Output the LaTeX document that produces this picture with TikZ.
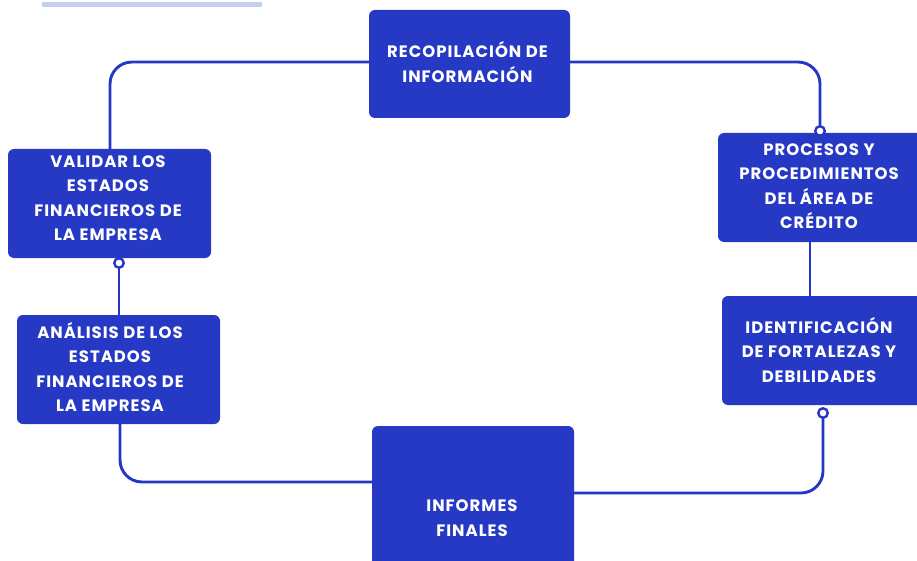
\documentclass[tikz,border=0pt]{standalone}
\usepackage{fontspec}
\setmainfont{Poppins}[BoldFont={* Bold},LetterSpace=6]
\definecolor{boxblue}{HTML}{2639C4}
\definecolor{lineblue}{HTML}{2536C4}
\definecolor{barblue}{HTML}{C3D0EE}
\begin{document}
\begin{tikzpicture}[x=1pt,y=-1pt,
  box/.style={fill=boxblue,rounded corners=6pt,text=white,font=\bfseries\fontsize{16.5}{24.5}\selectfont,align=center,inner sep=0pt},
  conn/.style={draw=lineblue,line width=2.9pt,rounded corners=22pt},
  knob/.style={circle,draw=lineblue,line width=2.4pt,fill=white,minimum size=9.5pt,inner sep=0pt}]
\useasboundingbox (0,0) rectangle (917,561);
\clip (0,0) rectangle (917,561);
\fill[barblue] (42,2) rectangle (262,7);
% connectors
\coordinate (c1) at (110,149);
\coordinate (c2) at (820,131);
\draw[conn] (369,62) -| (c1);
\draw[conn] (570,62) -| (c2);
\draw[conn] (810,242) -- (810,296);
\draw[conn] (823,413) |- (574,493);
\draw[conn] (372,482) -| (120,424);
\draw[conn] (119,258) -- (119,315);
% boxes
\path[box] (369,10) rectangle (570,118);
\node[box,fill=none] (rec) at (467.5,62) {RECOPILACIÓN DE\\INFORMACIÓN};
\path[box] (718,133) rectangle (930,242);
\node[box,fill=none] (proc) at (819,186) {PROCESOS Y\\PROCEDIMIENTOS\\DEL ÁREA DE\\CRÉDITO};
\path[box] (722,296) rectangle (930,405);
\node[box,fill=none] (ident) at (819,350) {IDENTIFICACIÓN\\DE FORTALEZAS Y\\DEBILIDADES};
\path[box] (372,426) rectangle (574,575);
\node[box,fill=none] (inf) at (472,518) {INFORMES\\FINALES};
\path[box] (17,315) rectangle (220,424);
\node[box,fill=none] (anal) at (110,367) {ANÁLISIS DE LOS\\ESTADOS\\FINANCIEROS DE\\LA EMPRESA};
\path[box] (8,149) rectangle (211,258);
\node[box,fill=none] (val) at (108,198) {VALIDAR LOS\\ESTADOS\\FINANCIEROS DE\\LA EMPRESA};
% knobs
\node[knob] (k1) at (820,131) {};
\node[knob] (k2) at (823,413) {};
\node[knob] (k3) at (119,263) {};
\end{tikzpicture}
\end{document}
